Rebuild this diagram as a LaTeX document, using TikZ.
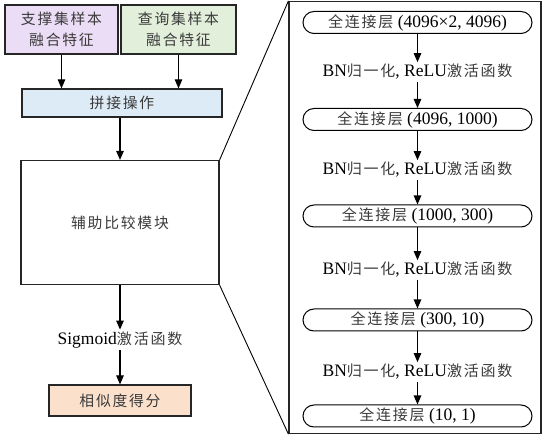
\documentclass[tikz,border=0pt]{standalone}
\usepackage{fontspec}
\setmainfont{Liberation Serif}
\newfontfamily\cjk[LetterSpace=12]{Noto Sans CJK SC}
\usetikzlibrary{arrows.meta}
\definecolor{cjkgray}{HTML}{3A3A3A}
\definecolor{supc}{HTML}{EBDDF5}
\definecolor{qryc}{HTML}{E2EFDA}
\definecolor{catc}{HTML}{DDEBF7}
\definecolor{scorec}{HTML}{FBE0CC}
\newcommand\zhfont{\cjk\fontsize{14.8}{21}\selectfont}
\newcommand\zh[1]{{\cjk\fontsize{15}{21}\selectfont\color{cjkgray}#1}}
\begin{document}
\begin{tikzpicture}[x=1pt,y=-1pt,
  box/.style={draw=black!85, line width=1.2pt, inner sep=0pt, align=center, font=\zhfont, text=cjkgray},
  fc/.style={draw=black, line width=1pt, rounded corners=11pt, minimum width=229pt, minimum height=22pt, inner sep=0pt},
  lbl/.style={inner sep=2pt},
  arr/.style={-{Triangle[width=7.5pt,length=9pt]}, line width=1.1pt},
  zoomline/.style={line width=0.9pt},
  font=\fontsize{17.5}{20}\selectfont]
\useasboundingbox (0,0) rectangle (542,438);
% left column
\node[box, fill=supc, minimum width=113pt, minimum height=49pt] (sup) at (61.5,29.5) {支撑集样本\\融合特征};
\node[box, fill=qryc, minimum width=115pt, minimum height=49pt] (qry) at (178.5,29.5) {查询集样本\\融合特征};
\node[box, fill=catc, minimum width=200pt, minimum height=28pt] (cat) at (122,103) {拼接操作};
\node[box, minimum width=198pt, minimum height=124pt] (aux) at (120,222.5) {辅助比较模块};
\node[lbl] (sig) at (120,340) {Sigmoid\zh{激活函数}};
\node[box, fill=scorec, minimum width=142pt, minimum height=31pt] (score) at (120,400.5) {相似度得分};
\draw[arr] (sup.south) -- (sup.south |- cat.north);
\draw[arr] (qry.south) -- (qry.south |- cat.north);
\draw[arr] (cat.south -| aux.north) -- (aux.north);
\draw[arr] (aux.south) -- (sig.north);
\draw[arr] (sig.south) -- (score.north);
% right detail box
\node[draw=black!85, line width=1.2pt, minimum width=252pt, minimum height=432pt, inner sep=0pt] (big) at (415,217.5) {};
\draw[zoomline] (aux.north east) -- (big.north west);
\draw[zoomline] (aux.south east) -- (big.south west);
\node[fc] (fc1) at (417.5,22.5) {\zh{全连接层} (4096×2, 4096)};
\node[lbl] (l1) at (417.5,72) {BN\zh{归一化}, ReLU\zh{激活函数}};
\node[fc] (fc2) at (417.5,119.5) {\zh{全连接层} (4096, 1000)};
\node[lbl] (l2) at (417.5,170) {BN\zh{归一化}, ReLU\zh{激活函数}};
\node[fc] (fc3) at (417.5,216) {\zh{全连接层} (1000, 300)};
\node[lbl] (l3) at (417.5,270) {BN\zh{归一化}, ReLU\zh{激活函数}};
\node[fc] (fc4) at (417.5,320) {\zh{全连接层} (300, 10)};
\node[lbl] (l4) at (417.5,372) {BN\zh{归一化}, ReLU\zh{激活函数}};
\node[fc] (fc5) at (417.5,416) {\zh{全连接层} (10, 1)};
\foreach \i/\j in {1/2,2/3,3/4,4/5}{
  \draw[arr] (fc\i.south) -- (l\i.north);
  \draw[arr] (l\i.south) -- (fc\j.north);
}
\end{tikzpicture}
\end{document}
